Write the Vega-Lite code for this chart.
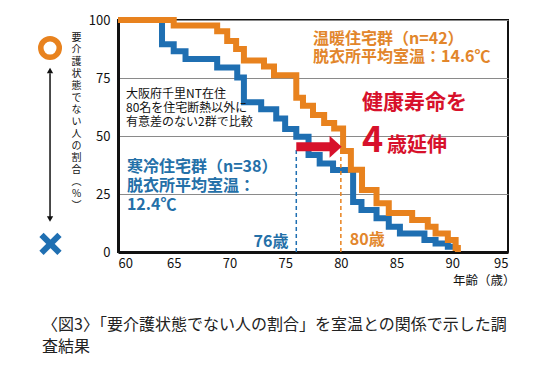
{
  "$schema": "https://vega.github.io/schema/vega-lite/v6.json",
  "width": 390,
  "height": 232,
  "autosize": {"type": "none"},
  "padding": {"left": 118, "top": 20, "right": 28, "bottom": 121},
  "background": "white",
  "config": {
    "font": "Noto Sans CJK JP",
    "view": {"stroke": "#111", "strokeWidth": 2}
  },
  "title": {
    "text": ["〈図3〉「要介護状態でない人の割合」を室温との関係で示した調", "査結果"],
    "orient": "bottom",
    "anchor": "start",
    "frame": "group",
    "dx": -76,
    "offset": 30,
    "fontSize": 16,
    "fontWeight": "normal",
    "color": "#222",
    "lineHeight": 22
  },
  "datasets": {
    "steps": [
      {"group": "cold", "age": 60, "pct": 100},
      {"group": "cold", "age": 63.95, "pct": 89.5},
      {"group": "cold", "age": 65.0, "pct": 86.5},
      {"group": "cold", "age": 66.06, "pct": 83.2},
      {"group": "cold", "age": 68.9, "pct": 79.5},
      {"group": "cold", "age": 70.7, "pct": 75.2},
      {"group": "cold", "age": 71.3, "pct": 64.5},
      {"group": "cold", "age": 72.85, "pct": 61.5},
      {"group": "cold", "age": 74.2, "pct": 57.5},
      {"group": "cold", "age": 75.0, "pct": 53},
      {"group": "cold", "age": 76.0, "pct": 49.7},
      {"group": "cold", "age": 77.1, "pct": 41.8},
      {"group": "cold", "age": 78.1, "pct": 38.2},
      {"group": "cold", "age": 79.3, "pct": 35.3},
      {"group": "cold", "age": 81.1, "pct": 21.5},
      {"group": "cold", "age": 81.85, "pct": 18.1},
      {"group": "cold", "age": 83.2, "pct": 14.5},
      {"group": "cold", "age": 84.3, "pct": 10.9},
      {"group": "cold", "age": 85.3, "pct": 8},
      {"group": "cold", "age": 87.5, "pct": 5.2},
      {"group": "cold", "age": 88.5, "pct": 3.7},
      {"group": "cold", "age": 89.6, "pct": 2.3},
      {"group": "cold", "age": 90.3, "pct": 2.3},
      {"group": "warm", "age": 60, "pct": 100},
      {"group": "warm", "age": 65.0, "pct": 97.6},
      {"group": "warm", "age": 68.9, "pct": 95.2},
      {"group": "warm", "age": 69.8, "pct": 91},
      {"group": "warm", "age": 70.6, "pct": 87.5},
      {"group": "warm", "age": 71.3, "pct": 82.5},
      {"group": "warm", "age": 73.1, "pct": 80},
      {"group": "warm", "age": 74.0, "pct": 76.2},
      {"group": "warm", "age": 76.0, "pct": 66.5},
      {"group": "warm", "age": 76.6, "pct": 63},
      {"group": "warm", "age": 77.5, "pct": 59},
      {"group": "warm", "age": 78.5, "pct": 55.6},
      {"group": "warm", "age": 79.4, "pct": 53.2},
      {"group": "warm", "age": 80.2, "pct": 43.5},
      {"group": "warm", "age": 80.9, "pct": 35.5},
      {"group": "warm", "age": 81.9, "pct": 26.7},
      {"group": "warm", "age": 83.2, "pct": 21},
      {"group": "warm", "age": 84.3, "pct": 16.8},
      {"group": "warm", "age": 86.4, "pct": 13.8},
      {"group": "warm", "age": 87.8, "pct": 10.9},
      {"group": "warm", "age": 88.5, "pct": 8},
      {"group": "warm", "age": 89.6, "pct": 5.2},
      {"group": "warm", "age": 90.3, "pct": 1.7},
      {"group": "warm", "age": 90.5, "pct": 0}
    ],
    "guides": [
      {"group": "cold", "age": 76, "pct": 0, "pct2": 44.5},
      {"group": "warm", "age": 80, "pct": 0, "pct2": 44.5}
    ],
    "labels": [
      {"k": "note", "age": 60.72, "pct": 68.0, "t": "大阪府千里NT在住"},
      {"k": "note", "age": 60.72, "pct": 62.0, "t": "80名を住宅断熱以外に"},
      {"k": "note", "age": 60.72, "pct": 56.0, "t": "有意差のない2群で比較"},
      {"k": "warm", "age": 77.5, "pct": 91.8, "t": "温暖住宅群（n=42）"},
      {"k": "warm", "age": 77.5, "pct": 84.0, "t": "脱衣所平均室温：14.6℃"},
      {"k": "cold", "age": 60.8, "pct": 36.8, "t": "寒冷住宅群（n=38）"},
      {"k": "cold", "age": 60.8, "pct": 28.4, "t": "脱衣所平均室温："},
      {"k": "cold", "age": 60.8, "pct": 20.4, "t": "12.4℃"},
      {"k": "red1", "age": 81.9, "pct": 64.2, "t": "健康寿命を"},
      {"k": "red4", "age": 81.9, "pct": 48, "t": "4"},
      {"k": "red2", "age": 84.15, "pct": 45.5, "t": "歳延伸"},
      {"k": "a76", "age": 75.3, "pct": 4.3, "t": "76歳"},
      {"k": "a80", "age": 80.8, "pct": 5.2, "t": "80歳"}
    ]
  },
  "layer": [
    {
      "data": {"name": "steps"},
      "transform": [{"filter": "datum.group === 'cold'"}],
      "mark": {"type": "line", "interpolate": "step-after", "strokeWidth": 6, "color": "#1f6fb2", "strokeCap": "butt", "strokeJoin": "miter"},
      "encoding": {
        "x": {
          "field": "age", "type": "quantitative",
          "scale": {"domain": [60, 95], "nice": false, "zero": false},
          "axis": {
            "values": [60, 65, 70, 75, 80, 85, 90, 95],
            "grid": false, "ticks": false,
            "domainColor": "#111", "domainWidth": 3,
            "labelFontSize": 13, "labelColor": "#111", "labelPadding": 5,
            "title": "年齢（歳）", "titleFontSize": 12.5, "titleFontWeight": "normal", "titleColor": "#111",
            "titleAlign": "right", "titleAnchor": "end", "titleX": 397, "titleY": 28, "titleBaseline": "middle"
          }
        },
        "y": {
          "field": "pct", "type": "quantitative",
          "scale": {"domain": [0, 100], "nice": false},
          "axis": {
            "values": [0, 25, 50, 75, 100],
            "grid": true, "gridColor": "#8a8a8a", "gridWidth": 1,
            "ticks": false,
            "domainColor": "#111", "domainWidth": 3,
            "labelFontSize": 13, "labelColor": "#111", "labelPadding": 8,
            "title": ["要", "介", "護", "状", "態", "で", "な", "い", "人", "の", "割", "合", "︵", "%", "︶"],
            "titleAngle": 0, "titleX": -42, "titleY": 12, "titleBaseline": "top", "titleAlign": "center",
            "titleFontSize": 10, "titleLineHeight": 12, "titleFontWeight": "normal", "titleColor": "#111"
          }
        }
      }
    },
    {
      "data": {"name": "steps"},
      "transform": [{"filter": "datum.group === 'warm'"}],
      "mark": {"type": "line", "interpolate": "step-after", "strokeWidth": 6, "color": "#e8821e", "strokeCap": "butt", "strokeJoin": "miter"},
      "encoding": {
        "x": {"field": "age", "type": "quantitative"},
        "y": {"field": "pct", "type": "quantitative"}
      }
    },
    {
      "data": {"name": "guides"},
      "transform": [{"filter": "datum.group === 'cold'"}],
      "mark": {"type": "rule", "color": "#1f6fb2", "strokeWidth": 1.5, "strokeDash": [4, 3]},
      "encoding": {
        "x": {"field": "age", "type": "quantitative"},
        "y": {"field": "pct", "type": "quantitative"},
        "y2": {"field": "pct2"}
      }
    },
    {
      "data": {"name": "guides"},
      "transform": [{"filter": "datum.group === 'warm'"}],
      "mark": {"type": "rule", "color": "#e8821e", "strokeWidth": 1.5, "strokeDash": [4, 3]},
      "encoding": {
        "x": {"field": "age", "type": "quantitative"},
        "y": {"field": "pct", "type": "quantitative"},
        "y2": {"field": "pct2"}
      }
    },
    {
      "data": {"values": [{"age": 76, "age2": 79.3, "pct": 45.4}]},
      "mark": {"type": "rule", "color": "#d7112b", "strokeWidth": 9},
      "encoding": {
        "x": {"field": "age", "type": "quantitative"},
        "x2": {"field": "age2"},
        "y": {"field": "pct", "type": "quantitative"}
      }
    },
    {
      "data": {"values": [{"age": 79.48, "pct": 45.4}]},
      "mark": {"type": "point", "shape": "M-0.5,-1L0.6,0L-0.5,1Z", "size": 484, "filled": true, "color": "#d7112b", "opacity": 1},
      "encoding": {
        "x": {"field": "age", "type": "quantitative"},
        "y": {"field": "pct", "type": "quantitative"}
      }
    },
    {
      "data": {"name": "labels"},
      "transform": [{"filter": "datum.k === 'note'"}],
      "mark": {"type": "text", "align": "left", "baseline": "middle", "fontSize": 12, "color": "#111"},
      "encoding": {
        "x": {"field": "age", "type": "quantitative"},
        "y": {"field": "pct", "type": "quantitative"},
        "text": {"field": "t"}
      }
    },
    {
      "data": {"name": "labels"},
      "transform": [{"filter": "datum.k === 'warm'"}],
      "mark": {"type": "text", "align": "left", "baseline": "middle", "fontSize": 16, "fontWeight": "bold", "color": "#e2862b"},
      "encoding": {
        "x": {"field": "age", "type": "quantitative"},
        "y": {"field": "pct", "type": "quantitative"},
        "text": {"field": "t"}
      }
    },
    {
      "data": {"name": "labels"},
      "transform": [{"filter": "datum.k === 'cold'"}],
      "mark": {"type": "text", "align": "left", "baseline": "middle", "fontSize": 16, "fontWeight": "bold", "color": "#2470a8"},
      "encoding": {
        "x": {"field": "age", "type": "quantitative"},
        "y": {"field": "pct", "type": "quantitative"},
        "text": {"field": "t"}
      }
    },
    {
      "data": {"name": "labels"},
      "transform": [{"filter": "datum.k === 'red1'"}],
      "mark": {"type": "text", "align": "left", "baseline": "middle", "fontSize": 21, "fontWeight": "bold", "color": "#d7112b"},
      "encoding": {
        "x": {"field": "age", "type": "quantitative"},
        "y": {"field": "pct", "type": "quantitative"},
        "text": {"field": "t"}
      }
    },
    {
      "data": {"name": "labels"},
      "transform": [{"filter": "datum.k === 'red4'"}],
      "mark": {"type": "text", "align": "left", "baseline": "middle", "fontSize": 36, "fontWeight": "bold", "color": "#d7112b"},
      "encoding": {
        "x": {"field": "age", "type": "quantitative"},
        "y": {"field": "pct", "type": "quantitative"},
        "text": {"field": "t"}
      }
    },
    {
      "data": {"name": "labels"},
      "transform": [{"filter": "datum.k === 'red2'"}],
      "mark": {"type": "text", "align": "left", "baseline": "middle", "fontSize": 20, "fontWeight": "bold", "color": "#d7112b"},
      "encoding": {
        "x": {"field": "age", "type": "quantitative"},
        "y": {"field": "pct", "type": "quantitative"},
        "text": {"field": "t"}
      }
    },
    {
      "data": {"name": "labels"},
      "transform": [{"filter": "datum.k === 'a76'"}],
      "mark": {"type": "text", "align": "right", "baseline": "middle", "fontSize": 16, "fontWeight": "bold", "color": "#2470a8"},
      "encoding": {
        "x": {"field": "age", "type": "quantitative"},
        "y": {"field": "pct", "type": "quantitative"},
        "text": {"field": "t"}
      }
    },
    {
      "data": {"name": "labels"},
      "transform": [{"filter": "datum.k === 'a80'"}],
      "mark": {"type": "text", "align": "left", "baseline": "middle", "fontSize": 16, "fontWeight": "bold", "color": "#e2862b"},
      "encoding": {
        "x": {"field": "age", "type": "quantitative"},
        "y": {"field": "pct", "type": "quantitative"},
        "text": {"field": "t"}
      }
    },
    {
      "data": {"values": [{"age": 53.9, "pct": 15, "pct2": 77}]},
      "mark": {"type": "rule", "color": "#111", "strokeWidth": 1.5},
      "encoding": {
        "x": {"field": "age", "type": "quantitative"},
        "y": {"field": "pct", "type": "quantitative"},
        "y2": {"field": "pct2"}
      }
    },
    {
      "data": {"values": [{"age": 53.9, "pct": 78.2, "s": "triangle-up"}, {"age": 53.9, "pct": 14.2, "s": "triangle-down"}]},
      "mark": {"type": "point", "filled": true, "size": 40, "color": "#111", "opacity": 1},
      "encoding": {
        "x": {"field": "age", "type": "quantitative"},
        "y": {"field": "pct", "type": "quantitative"},
        "shape": {"field": "s", "type": "nominal", "scale": null, "legend": null}
      }
    },
    {
      "data": {"values": [{"age": 53.9, "pct": 87.9}]},
      "mark": {"type": "point", "shape": "circle", "size": 342, "filled": false, "strokeWidth": 5.5, "color": "#e8821e", "opacity": 1},
      "encoding": {
        "x": {"field": "age", "type": "quantitative"},
        "y": {"field": "pct", "type": "quantitative"}
      }
    },
    {
      "data": {"values": [{"age": 53.94, "pct": 3.45}]},
      "mark": {"type": "point", "shape": "M-1,-1L1,1M-1,1L1,-1", "size": 324, "filled": false, "strokeWidth": 6, "color": "#1f6fb2", "opacity": 1},
      "encoding": {
        "x": {"field": "age", "type": "quantitative"},
        "y": {"field": "pct", "type": "quantitative"}
      }
    }
  ]
}
